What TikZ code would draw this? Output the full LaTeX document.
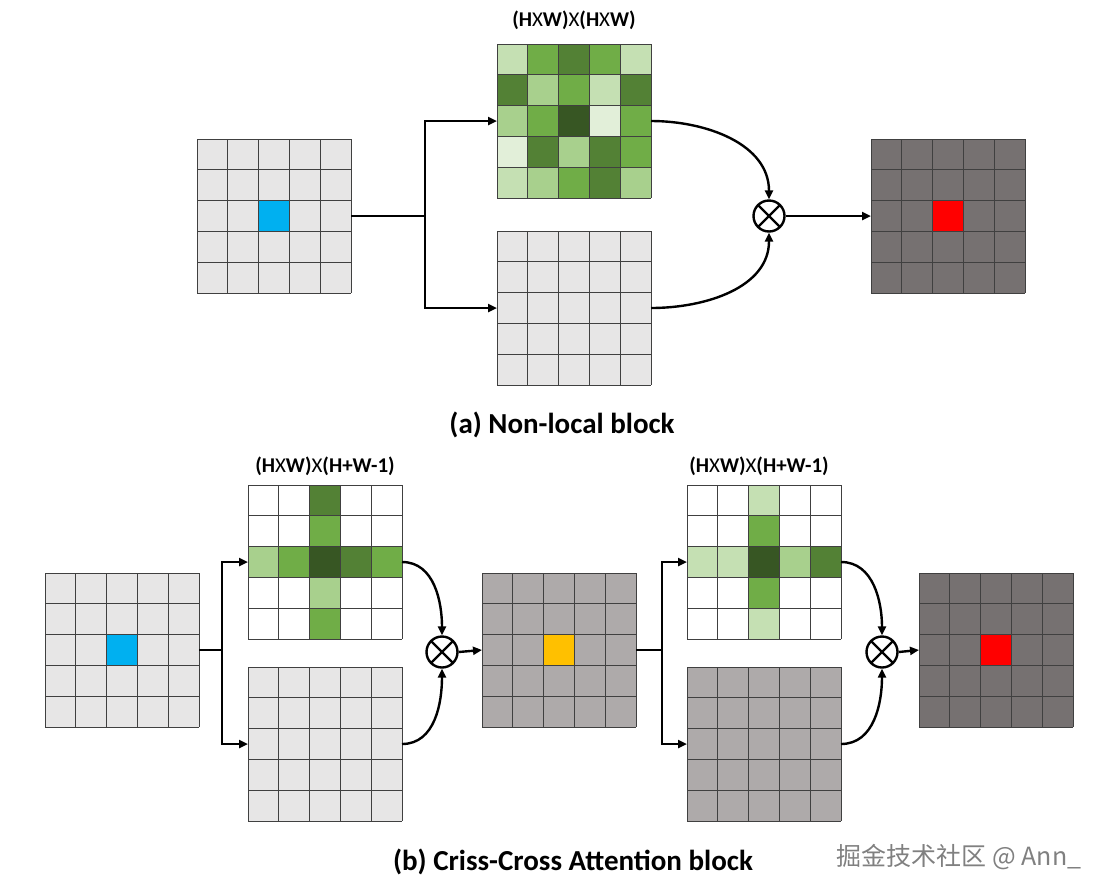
\documentclass[tikz,border=0pt]{standalone}
\usepackage{fontspec}
\setmainfont{Carlito}
\newfontfamily\cjk{Noto Sans CJK SC}
\usetikzlibrary{arrows.meta}

\definecolor{mapgray}{HTML}{E7E6E6}
\definecolor{midgray}{HTML}{AEAAAA}
\definecolor{darkgray}{HTML}{767171}
\definecolor{qblue}{HTML}{00B0F0}
\definecolor{qorange}{HTML}{FFC000}
\definecolor{ga}{HTML}{E2EFD9}
\definecolor{gb}{HTML}{C5E0B3}
\definecolor{gc}{HTML}{A8D08D}
\definecolor{gd}{HTML}{70AD47}
\definecolor{ge}{HTML}{538135}
\definecolor{gf}{HTML}{375623}

\tikzset{
	mapbox/.style={shape=rectangle,minimum size=154pt,inner sep=0pt,outer sep=0pt},
	gridline/.style={draw=black!75,line width=0.8pt},
	flow/.style={line width=2.4pt,-{Triangle[length=9pt,width=8pt]}},
	plain/.style={line width=2.4pt},
	otimes/.style={shape=circle,draw=black,line width=2.4pt,minimum size=31pt,inner sep=0pt,
		path picture={\draw[line width=2.4pt] (path picture bounding box.north west) -- (path picture bounding box.south east)
			(path picture bounding box.north east) -- (path picture bounding box.south west);}},
	dimlabel/.style={font=\fontsize{21}{25}\selectfont},
	caption/.style={font=\bfseries\fontsize{29}{34}\selectfont}
}

% feature map: name, left, top, fill, cells
\newcommand{\fmap}[5]{%
	\def\gx{#2}\def\gy{#3}
	\fill[#4] (#2,#3) rectangle ++(154,154);
	#5
	\foreach \k in {0,...,5}{
		\draw[gridline] (#2+\k*30.8,#3) -- (#2+\k*30.8,#3+154);
		\draw[gridline] (#2,#3+\k*30.8) -- (#2+154,#3+\k*30.8);
	}
	\node[mapbox] (#1) at (#2+77,#3+77) {};}
\newcommand{\cell}[3]{\fill[#3] (\gx+#1*30.8,\gy+#2*30.8) rectangle ++(30.8,30.8);}

\begin{document}
\begin{tikzpicture}[x=1pt,y=-1pt]
	\useasboundingbox (0,0) rectangle (1108,895);

	% (a) non-local block
	\fmap{inA}{197}{139}{mapgray}{\cell{2}{2}{qblue}}
	\fmap{attA}{497}{44}{white}{
		\foreach \c [count=\n from 0] in {gb,gd,ge,gd,gb, ge,gc,gd,gb,ge, gc,gd,gf,ga,gd, ga,ge,gc,ge,gd, gb,gc,gd,ge,gc}{
			\pgfmathtruncatemacro\ci{mod(\n,5)}
			\pgfmathtruncatemacro\ri{div(\n,5)}
			\cell{\ci}{\ri}{\c}
		}}
	\fmap{valA}{497}{231}{mapgray}{}
	\fmap{outA}{871}{139}{darkgray}{\cell{2}{2}{red}}
	\node[otimes] (mulA) at (769,216) {};
	\coordinate (splitA) at (425,216);

	\node[dimlabel] (dimA) at (574,20) {\textbf{(H}X\textbf{W)}X\textbf{(H}X\textbf{W)}};
	\node[caption] (capA) at (562,425) {(a) Non-local block};

	\path[plain] (inA.east) edge (splitA);
	\path[flow] (splitA) edge[to path={|- (\tikztotarget)}] (attA.west);
	\path[flow] (splitA) edge[to path={|- (\tikztotarget)}] (valA.west);
	\path[flow] (attA.east) edge[out=0,in=90] (mulA.north);
	\path[flow] (valA.east) edge[out=0,in=-90] (mulA.south);
	\path[flow] (mulA.east) edge (outA.west);

	% (b) criss-cross attention block
	\fmap{inB}{45}{573}{mapgray}{\cell{2}{2}{qblue}}
	\fmap{attB}{248}{485}{white}{
		\cell{2}{0}{ge}\cell{2}{1}{gd}\cell{2}{3}{gc}\cell{2}{4}{gd}
		\cell{0}{2}{gc}\cell{1}{2}{gd}\cell{2}{2}{gf}\cell{3}{2}{ge}\cell{4}{2}{gd}}
	\fmap{valB}{248}{667}{mapgray}{}
	\fmap{midB}{482}{573}{midgray}{\cell{2}{2}{qorange}}
	\fmap{attC}{687}{485}{white}{
		\cell{2}{0}{gb}\cell{2}{1}{gd}\cell{2}{3}{gd}\cell{2}{4}{gb}
		\cell{0}{2}{gb}\cell{1}{2}{gb}\cell{2}{2}{gf}\cell{3}{2}{gc}\cell{4}{2}{ge}}
	\fmap{valC}{687}{667}{midgray}{}
	\fmap{outB}{919}{573}{darkgray}{\cell{2}{2}{red}}
	\node[otimes] (mulB) at (442,652) {};
	\node[otimes] (mulC) at (882,652) {};
	\coordinate (splitB) at (222,650);
	\coordinate (splitC) at (662,650);

	\node[dimlabel] (dimB) at (325,466) {\textbf{(H}X\textbf{W)}X\textbf{(H+W-1)}};
	\node[dimlabel] (dimC) at (759,466) {\textbf{(H}X\textbf{W)}X\textbf{(H+W-1)}};
	\node[caption] (capB) at (573,862) {(b) Criss-Cross Attention block};
	\node[font=\cjk\fontsize{25}{29}\selectfont,text=black!50] (mark) at (959,857) {掘金技术社区 @ Ann\_};

	\path[plain] (inB.east) edge (splitB);
	\path[flow] (splitB) edge[to path={|- (\tikztotarget)}] (attB.west);
	\path[flow] (splitB) edge[to path={|- (\tikztotarget)}] (valB.west);
	\path[flow] (attB.east) edge[out=0,in=90] (mulB.north);
	\path[flow] (valB.east) edge[out=0,in=-90] (mulB.south);
	\path[flow] (mulB.east) edge (midB.west);
	\path[plain] (midB.east) edge (splitC);
	\path[flow] (splitC) edge[to path={|- (\tikztotarget)}] (attC.west);
	\path[flow] (splitC) edge[to path={|- (\tikztotarget)}] (valC.west);
	\path[flow] (attC.east) edge[out=0,in=90] (mulC.north);
	\path[flow] (valC.east) edge[out=0,in=-90] (mulC.south);
	\path[flow] (mulC.east) edge (outB.west);
\end{tikzpicture}
\end{document}
